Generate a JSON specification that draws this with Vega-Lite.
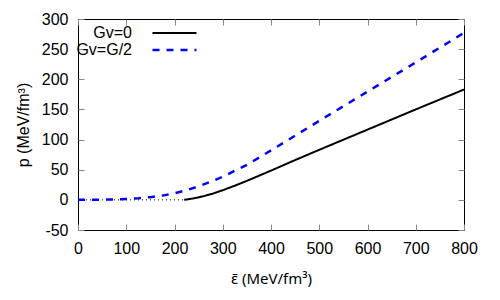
{
  "$schema": "https://vega.github.io/schema/vega-lite/v6.json",
  "autosize": {"type": "none"},
  "padding": {"left": 78, "top": 19, "right": 36, "bottom": 70},
  "width": 386,
  "height": 211,
  "data": {"values": [
    {"series": "Gv=0", "part": "dot", "e": 0, "p": 0},
    {"series": "Gv=0", "part": "dot", "e": 220, "p": 0},
    {"series": "Gv=0", "part": "main", "e": 220, "p": 0},
    {"series": "Gv=0", "part": "main", "e": 240, "p": 2.5},
    {"series": "Gv=0", "part": "main", "e": 260, "p": 6},
    {"series": "Gv=0", "part": "main", "e": 280, "p": 10.5},
    {"series": "Gv=0", "part": "main", "e": 300, "p": 16},
    {"series": "Gv=0", "part": "main", "e": 325, "p": 23.5},
    {"series": "Gv=0", "part": "main", "e": 350, "p": 31.5},
    {"series": "Gv=0", "part": "main", "e": 375, "p": 40},
    {"series": "Gv=0", "part": "main", "e": 400, "p": 48.5},
    {"series": "Gv=0", "part": "main", "e": 450, "p": 66},
    {"series": "Gv=0", "part": "main", "e": 500, "p": 83},
    {"series": "Gv=0", "part": "main", "e": 600, "p": 116.5},
    {"series": "Gv=0", "part": "main", "e": 700, "p": 150},
    {"series": "Gv=0", "part": "main", "e": 800, "p": 183},
    {"series": "Gv=G/2", "part": "main", "e": 0, "p": 0},
    {"series": "Gv=G/2", "part": "main", "e": 25, "p": 0.1},
    {"series": "Gv=G/2", "part": "main", "e": 50, "p": 0.3},
    {"series": "Gv=G/2", "part": "main", "e": 75, "p": 0.8},
    {"series": "Gv=G/2", "part": "main", "e": 100, "p": 1.6},
    {"series": "Gv=G/2", "part": "main", "e": 125, "p": 2.8},
    {"series": "Gv=G/2", "part": "main", "e": 150, "p": 4.5},
    {"series": "Gv=G/2", "part": "main", "e": 175, "p": 7},
    {"series": "Gv=G/2", "part": "main", "e": 200, "p": 11},
    {"series": "Gv=G/2", "part": "main", "e": 225, "p": 16},
    {"series": "Gv=G/2", "part": "main", "e": 250, "p": 22.5},
    {"series": "Gv=G/2", "part": "main", "e": 275, "p": 30},
    {"series": "Gv=G/2", "part": "main", "e": 300, "p": 38.5},
    {"series": "Gv=G/2", "part": "main", "e": 350, "p": 58},
    {"series": "Gv=G/2", "part": "main", "e": 400, "p": 82},
    {"series": "Gv=G/2", "part": "main", "e": 450, "p": 106.5},
    {"series": "Gv=G/2", "part": "main", "e": 500, "p": 131},
    {"series": "Gv=G/2", "part": "main", "e": 600, "p": 179.5},
    {"series": "Gv=G/2", "part": "main", "e": 700, "p": 228},
    {"series": "Gv=G/2", "part": "main", "e": 800, "p": 277}
  ]},
  "config": {
    "view": {"stroke": "#000", "strokeWidth": 1},
    "axis": {
      "grid": false,
      "domain": false,
      "labelFlush": false,
      "labelOverlap": false,
      "tickColor": "#888",
      "tickWidth": 1,
      "labelFont": "Liberation Sans",
      "labelFontSize": 16,
      "labelColor": "#000",
      "titleFont": "Liberation Sans",
      "titleFontSize": 16,
      "titleFontWeight": "normal",
      "titleColor": "#000"
    },
    "legend": {
      "labelFont": "Liberation Sans",
      "labelFontSize": 16,
      "labelColor": "#000"
    }
  },
  "resolve": {"axis": {"x": "independent", "y": "independent"}},
  "layer": [
    {
      "transform": [{"filter": "datum.part == 'dot'"}],
      "mark": {"type": "line", "color": "#000", "strokeWidth": 1, "strokeDash": [1, 3]},
      "encoding": {
        "x": {"field": "e", "type": "quantitative",
              "scale": {"domain": [0, 800], "nice": false, "zero": false},
              "axis": {"orient": "bottom", "title": "ε̄ (MeV/fm³)", "titleFont": "Noto Sans", "titleFontSize": 15,
                       "values": [0, 100, 200, 300, 400, 500, 600, 700, 800],
                       "tickSize": -6, "labelPadding": 16, "titlePadding": 15}},
        "y": {"field": "p", "type": "quantitative",
              "scale": {"domain": [-50, 300], "nice": false, "zero": false},
              "axis": {"orient": "left", "title": "p (MeV/fm³)", "values": [-50, 0, 50, 100, 150, 200, 250, 300],
                       "labelExpr": "'' + datum.value",
                       "tickSize": -6, "labelPadding": 16, "titlePadding": 10}}
      }
    },
    {
      "transform": [{"filter": "datum.part == 'main'"}],
      "mark": {"type": "line"},
      "encoding": {
        "x": {"field": "e", "type": "quantitative",
              "scale": {"domain": [0, 800], "nice": false, "zero": false},
              "axis": {"orient": "top", "title": null, "labels": false, "values": [0, 100, 200, 300, 400, 500, 600, 700, 800], "tickSize": -6}},
        "y": {"field": "p", "type": "quantitative",
              "scale": {"domain": [-50, 300], "nice": false, "zero": false},
              "axis": {"orient": "right", "title": null, "labels": false, "values": [-50, 0, 50, 100, 150, 200, 250, 300], "tickSize": -6}},
        "color": {"field": "series", "type": "nominal",
                  "scale": {"domain": ["Gv=0", "Gv=G/2"], "range": ["#000000", "#0000ff"]},
                  "legend": {"title": null, "orient": "none", "legendX": 83, "legendY": 6,
                             "symbolType": "M-3,0H5", "symbolSize": 121, "symbolStrokeWidth": 2.2,
                             "labelAlign": "right", "labelOffset": -45, "rowPadding": 1}},
        "strokeDash": {"field": "series", "type": "nominal",
                       "scale": {"domain": ["Gv=0", "Gv=G/2"], "range": [[1, 0], [7, 7]]}},
        "strokeWidth": {"field": "series", "type": "nominal",
                        "scale": {"domain": ["Gv=0", "Gv=G/2"], "range": [2, 2.5]}, "legend": null}
      }
    }
  ]
}
